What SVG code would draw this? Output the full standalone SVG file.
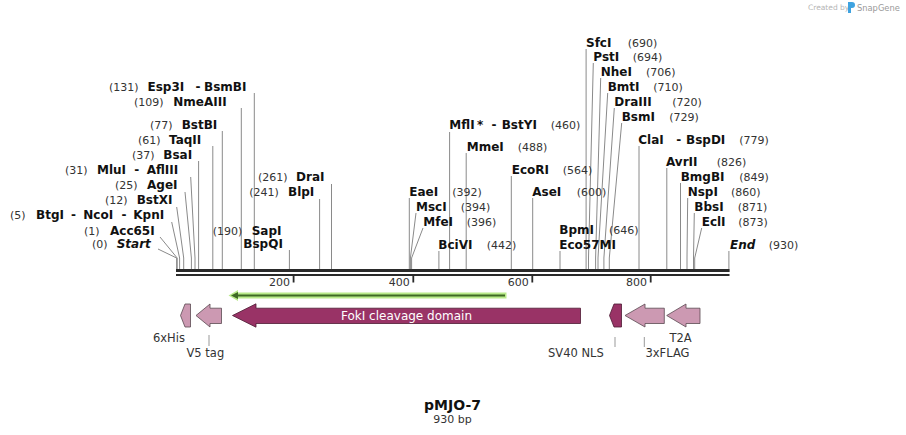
<svg xmlns="http://www.w3.org/2000/svg" width="906" height="435" viewBox="0 0 906 435">
<style>
.n{font-family:"DejaVu Sans",Verdana,sans-serif;font-weight:bold;font-size:12px;fill:#111}
.i{font-style:italic}
.p{font-family:"DejaVu Sans",Verdana,sans-serif;font-size:11px;fill:#333}
.f{font-family:"DejaVu Sans",Verdana,sans-serif;font-size:11.5px;fill:#333}
.c{stroke:#8a8a8a;stroke-width:1;fill:none}
.t{stroke:#999;stroke-width:1;fill:none}
.pink{fill:#cc99b2;stroke:#5a4a52;stroke-width:0.8}
.dark{fill:#993366;stroke:#4d1a33;stroke-width:0.8}
.bb{fill:#2a2a2a}
</style>
<rect width="906" height="435" fill="#fff"/>

<g id="logo">
<text x="808" y="10" style="font-family:'DejaVu Sans',sans-serif;font-size:7.5px;fill:#b5b5b5">Created by</text>
<path d="M848,2 h4 a3,3 0 0 1 0,6 h-1 v5 h-3 z" fill="#3fa3e0"/>
<text x="857" y="11" style="font-family:'DejaVu Sans',sans-serif;font-size:8.3px;fill:#9a9a9a">SnapGene</text>
</g>

<g id="connectors">
<path class="c" d="M254.3,93V269"/>
<path class="c" d="M241.3,108V269"/>
<path class="c" d="M222.3,131V269"/>
<path class="c" d="M212.8,146V269"/>
<path class="c" d="M198.6,161V269"/>
<path class="c" d="M190.7,177L195,258V269"/>
<path class="c" d="M185,192L191.4,258V269"/>
<path class="c" d="M176.7,207L183.7,258V269"/>
<path class="c" d="M171.7,222L179.6,258V269"/>
<path class="c" d="M160,237L177.2,258V269"/>
<path class="c" d="M158,249L176.6,258V269"/>
<path class="c" d="M289.4,250V269"/>
<path class="c" d="M319.6,199V269"/>
<path class="c" d="M331.5,184V269"/>
<path class="c" d="M409.3,198V269"/>
<path class="c" d="M416,213L410.4,258V269"/>
<path class="c" d="M423,228L411.6,258V269"/>
<path class="c" d="M438.9,251V269"/>
<path class="c" d="M449.6,132V269"/>
<path class="c" d="M466.2,153V269"/>
<path class="c" d="M511.3,176V269"/>
<path class="c" d="M532.7,198V269"/>
<path class="c" d="M560,251V269"/>
<path class="c" d="M586.1,49V269"/>
<path class="c" d="M593.3,63L588.5,258V269"/>
<path class="c" d="M600.7,78L595.6,258V269"/>
<path class="c" d="M607.7,93L598,258V269"/>
<path class="c" d="M614.3,108L603.9,258V269"/>
<path class="c" d="M621.7,123L609.3,258V269"/>
<path class="c" d="M639,146V269"/>
<path class="c" d="M666.8,168V269"/>
<path class="c" d="M680.5,183V269"/>
<path class="c" d="M687.7,198L687,258V269"/>
<path class="c" d="M694.3,213L693.5,258V269"/>
<path class="c" d="M701.7,228L694.7,258V269"/>
<path class="c" d="M728.9,251V272"/>
<path class="t" d="M209,335V346"/>
<path class="t" d="M615,337V347"/>
<path class="t" d="M644.3,337V347"/>
</g>

<g id="backbone">
<rect class="bb" x="176" y="269" width="553.5" height="3"/>
<rect class="bb" x="176" y="274" width="553.5" height="2"/>
<rect class="bb" x="292.7" y="275.5" width="1.8" height="7"/>
<rect class="bb" x="412.4" y="275.5" width="1.8" height="7"/>
<rect class="bb" x="531.4" y="275.5" width="1.8" height="7"/>
<rect class="bb" x="649.8" y="275.5" width="1.8" height="7"/>
<text class="p" x="290" y="285.5" text-anchor="end">200</text>
<text class="p" x="409.7" y="285.5" text-anchor="end">400</text>
<text class="p" x="528.7" y="285.5" text-anchor="end">600</text>
<text class="p" x="647.1" y="285.5" text-anchor="end">800</text>
</g>

<g id="site-Esp3I"><text class="p" x="109" y="91">(131)</text><text class="n" x="147.5" y="91">Esp3I</text><text class="n" x="195.5" y="91">-</text><text class="n" x="204" y="91">BsmBI</text></g>
<g id="site-NmeAIII"><text class="p" x="134" y="106">(109)</text><text class="n" x="173.3" y="106">NmeAIII</text></g>
<g id="site-BstBI"><text class="p" x="150" y="129">(77)</text><text class="n" x="181.7" y="129">BstBI</text></g>
<g id="site-TaqII"><text class="p" x="138" y="144">(61)</text><text class="n" x="169" y="144">TaqII</text></g>
<g id="site-BsaI"><text class="p" x="132" y="159">(37)</text><text class="n" x="163.3" y="159">BsaI</text></g>
<g id="site-MluI"><text class="p" x="65" y="174">(31)</text><text class="n" x="97" y="174">MluI</text><text class="n" x="134.2" y="174">-</text><text class="n" x="146.7" y="174">AflIII</text></g>
<g id="site-AgeI"><text class="p" x="115" y="189">(25)</text><text class="n" x="147" y="189">AgeI</text></g>
<g id="site-BstXI"><text class="p" x="105" y="204">(12)</text><text class="n" x="136.7" y="204">BstXI</text></g>
<g id="site-BtgI"><text class="p" x="10" y="219">(5)</text><text class="n" x="36" y="219">BtgI</text><text class="n" x="71" y="219">-</text><text class="n" x="83.3" y="219">NcoI</text><text class="n" x="121.5" y="219">-</text><text class="n" x="133.3" y="219">KpnI</text></g>
<g id="site-Acc65I"><text class="p" x="84" y="235">(1)</text><text class="n" x="110" y="235">Acc65I</text></g>
<g id="site-Start"><text class="p" x="92" y="248">(0)</text><text class="n i" x="116.7" y="248">Start</text></g>
<g id="site-SapI"><text class="p" x="212.7" y="235">(190)</text><text class="n" x="251.7" y="235">SapI</text><text class="n" x="243.3" y="248">BspQI</text></g>
<g id="site-BlpI"><text class="p" x="249.3" y="196">(241)</text><text class="n" x="288" y="196">BlpI</text></g>
<g id="site-DraI"><text class="p" x="258" y="181">(261)</text><text class="n" x="296" y="181">DraI</text></g>

<g id="site-EaeI"><text class="n" x="409.3" y="196">EaeI</text><text class="p" x="452.3" y="196">(392)</text></g>
<g id="site-MscI"><text class="n" x="416" y="211">MscI</text><text class="p" x="460.7" y="211">(394)</text></g>
<g id="site-MfeI"><text class="n" x="423.3" y="226">MfeI</text><text class="p" x="466.7" y="226">(396)</text></g>
<g id="site-BciVI"><text class="n" x="438.3" y="249">BciVI</text><text class="p" x="486.7" y="249">(442)</text></g>
<g id="site-MflI"><text class="n" x="449.3" y="129">MflI</text><text class="n" x="477" y="129">*</text><text class="n" x="491.5" y="129">-</text><text class="n" x="501.7" y="129">BstYI</text><text class="p" x="550.7" y="129">(460)</text></g>
<g id="site-MmeI"><text class="n" x="466.7" y="151">MmeI</text><text class="p" x="517.7" y="151">(488)</text></g>
<g id="site-EcoRI"><text class="n" x="511.7" y="174">EcoRI</text><text class="p" x="562.7" y="174">(564)</text></g>
<g id="site-AseI"><text class="n" x="532.3" y="196">AseI</text><text class="p" x="576.7" y="196">(600)</text></g>
<g id="site-BpmI"><text class="n" x="559.3" y="234">BpmI</text><text class="p" x="609" y="234">(646)</text><text class="n" x="559.3" y="249">Eco57MI</text></g>

<g id="site-SfcI"><text class="n" x="586" y="47">SfcI</text><text class="p" x="627.7" y="47">(690)</text></g>
<g id="site-PstI"><text class="n" x="593.3" y="61">PstI</text><text class="p" x="632.7" y="61">(694)</text></g>
<g id="site-NheI"><text class="n" x="600.7" y="76">NheI</text><text class="p" x="646" y="76">(706)</text></g>
<g id="site-BmtI"><text class="n" x="607.7" y="91">BmtI</text><text class="p" x="653.3" y="91">(710)</text></g>
<g id="site-DraIII"><text class="n" x="614.3" y="106">DraIII</text><text class="p" x="672.3" y="106">(720)</text></g>
<g id="site-BsmI"><text class="n" x="621.7" y="121">BsmI</text><text class="p" x="669.3" y="121">(729)</text></g>
<g id="site-ClaI"><text class="n" x="638.3" y="144">ClaI</text><text class="n" x="676.2" y="144">-</text><text class="n" x="686" y="144">BspDI</text><text class="p" x="739.3" y="144">(779)</text></g>
<g id="site-AvrII"><text class="n" x="666" y="166">AvrII</text><text class="p" x="716.7" y="166">(826)</text></g>
<g id="site-BmgBI"><text class="n" x="680.7" y="181">BmgBI</text><text class="p" x="739.3" y="181">(849)</text></g>
<g id="site-NspI"><text class="n" x="687.7" y="196">NspI</text><text class="p" x="731" y="196">(860)</text></g>
<g id="site-BbsI"><text class="n" x="694.3" y="211">BbsI</text><text class="p" x="737.7" y="211">(871)</text></g>
<g id="site-EclI"><text class="n" x="701.7" y="226">EclI</text><text class="p" x="738.3" y="226">(873)</text></g>
<g id="site-End"><text class="n i" x="730" y="249">End</text><text class="p" x="768.7" y="249">(930)</text></g>

<g id="primer">
<polygon points="228.5,295.5 238,290 238,292.5 506.5,292.5 506.5,298.5 238,298.5 238,301" fill="#b9ea8a"/>
<path d="M236,295.5H505" stroke="#3f6a24" stroke-width="2"/>
<polygon points="231,295.5 238,292 238,299" fill="#3f6a24"/>
</g>

<g id="feat-FokI">
<polygon class="dark" points="232.5,315.5 256,303.8 256,308.2 580.5,308.2 580.5,323.5 256,323.5 256,327.2"/>
<text x="406.5" y="320" text-anchor="middle" style="font-family:'DejaVu Sans',Verdana,sans-serif;font-size:12px;fill:#fff">FokI cleavage domain</text>
</g>
<g id="feat-6xHis">
<polygon class="pink" points="180.5,315.5 185,304 190.5,304 190.5,327 185,327"/>
<text class="f" x="153" y="342">6xHis</text>
</g>
<g id="feat-V5">
<polygon class="pink" points="196,315.5 210,304 210,308.2 221.5,308.2 221.5,323.5 210,323.5 210,327"/>
<text class="f" x="186.5" y="357">V5 tag</text>
</g>
<g id="feat-SV40NLS">
<polygon class="dark" points="609.5,315.5 614,304 621.5,304 621.5,327 614,327"/>
<text class="f" x="548" y="357">SV40 NLS</text>
</g>
<g id="feat-3xFLAG">
<polygon class="pink" points="625,315.5 645,304 645,308.2 664.3,308.2 664.3,323.5 645,323.5 645,327"/>
<text class="f" x="645.5" y="357">3xFLAG</text>
</g>
<g id="feat-T2A">
<polygon class="pink" points="666.7,315.5 686,304 686,308.2 700,308.2 700,323.5 686,323.5 686,327"/>
<text class="f" x="669.5" y="342">T2A</text>
</g>

<g id="title">
<text x="452.5" y="410" text-anchor="middle" style="font-family:'DejaVu Sans',Verdana,sans-serif;font-weight:bold;font-size:14px;fill:#111">pMJO-7</text>
<text x="452.5" y="423" text-anchor="middle" style="font-family:'DejaVu Sans',Verdana,sans-serif;font-size:11px;fill:#333">930 bp</text>
</g>
</svg>
